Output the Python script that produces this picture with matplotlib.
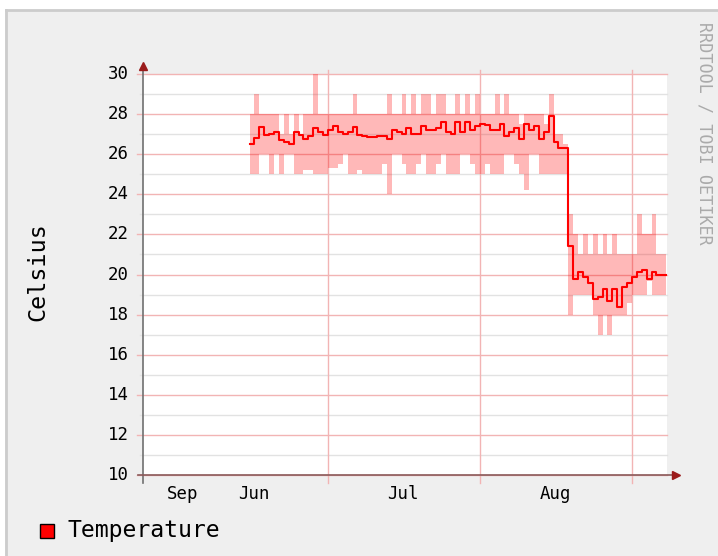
import matplotlib
matplotlib.use("Agg")
import matplotlib.pyplot as plt
from matplotlib.patches import Rectangle
from matplotlib.lines import Line2D

# day 0 = 1 June; one sample per day, from 15 June onward
days = list(range(14, 99))

temp_avg = [26.5, 26.8, 27.35, 26.95, 27.0, 27.1, 26.7, 26.6, 26.5, 27.1,
            26.95, 26.75, 26.9, 27.3, 27.1, 26.95, 27.2, 27.4, 27.1, 27.0,
            27.1, 27.35, 26.95, 26.9, 26.85, 26.85, 26.9, 26.9, 26.75, 27.2,
            27.1, 27.0, 27.3, 27.0, 27.0, 27.4, 27.2, 27.2, 27.3, 27.6,
            27.1, 27.0, 27.6, 27.1, 27.6, 27.2, 27.4, 27.5, 27.45, 27.2,
            27.2, 27.5, 26.9, 27.1, 27.3, 26.75, 27.5, 27.2, 27.4, 26.75,
            27.1, 27.9, 26.6, 26.3, 26.3, 21.4, 19.8, 20.1, 19.9, 19.6,
            18.8, 18.9, 19.3, 18.7, 19.3, 18.4, 19.4, 19.6, 19.9, 20.1,
            20.2, 19.8, 20.1, 20.0, 20.0]

temp_max = [28, 29, 28, 28, 28, 28, 27, 28, 27, 28,
            27, 28, 28, 30, 28, 28, 28, 28, 28, 28,
            28, 29, 28, 28, 28, 28, 28, 28, 29, 28,
            28, 29, 28, 29, 28, 29, 29, 28, 29, 29,
            28, 28, 29, 28, 29, 28, 29, 28, 28, 28,
            29, 28, 29, 28, 28, 27.5, 28, 28, 28, 28,
            27.5, 29, 27, 27, 26.5, 23, 22, 21, 22, 21,
            22, 21, 22, 21, 22, 21, 21, 21, 21, 23,
            22, 22, 23, 21, 21]

temp_min = [25, 25, 26, 26, 25, 26, 25, 26, 26, 25,
            25, 25.2, 25.2, 25, 25, 25, 25.3, 25.3, 25.5, 26,
            25, 25, 25.2, 25, 25, 25, 25, 25.5, 24, 26,
            26, 25.5, 25, 25, 25.5, 26, 25, 25, 25.5, 26,
            25, 25, 25, 26, 26, 25.5, 25, 25, 25.5, 25,
            25, 25, 26, 26, 25.5, 25, 24.2, 26, 26, 25,
            25, 25, 25, 25, 25, 18, 19, 19, 19, 19,
            18, 17, 18, 17, 18, 18, 18, 18.6, 19, 19,
            19, 19.7, 19, 19, 19]

month_starts = [30, 61, 92]
label_pos = [0.4, 14.9, 45.3, 76.3]
label_txt = ["Sep", "Jun", "Jul", "Aug"]
y_major = [10, 12, 14, 16, 18, 20, 22, 24, 26, 28, 30]
y_minor = [11, 13, 15, 17, 19, 21, 23, 25, 27, 29]

W, H = 718, 556
mono = "DejaVu Sans Mono"

fig = plt.figure(figsize=(W / 100, H / 100), dpi=100, facecolor="white")

# grey canvas with a light border on top and left
fig.patches.append(Rectangle((5 / W, 0), 1, (H - 10) / H, transform=fig.transFigure,
                             facecolor="#EFEFEF", edgecolor="none", zorder=-10))
fig.lines.append(Line2D([6 / W, 6 / W], [0, (H - 10) / H], transform=fig.transFigure,
                        color="#CCCCCC", lw=2, zorder=-9))
fig.lines.append(Line2D([6 / W, 1], [(H - 10) / H, (H - 10) / H], transform=fig.transFigure,
                        color="#CCCCCC", lw=2, zorder=-9))

def px(x):
    return (x - 180.9) / 4.903

ax = fig.add_axes([143 / W, 81 / H, 524 / W, 401 / H])
ax.set_zorder(1)
ax.set_facecolor("white")
ax.set_xlim(px(143), px(667))
ax.set_ylim(10, 30)
for s in ax.spines.values():
    s.set_visible(False)
ax.set_xticks([])
ax.set_yticks([])

# grid
for v in y_minor:
    ax.axhline(v, xmin=-3 / 524, xmax=1, color="#E2E2E2", lw=1, clip_on=False, zorder=1)
for v in y_major:
    ax.axhline(v, xmin=-6 / 524, xmax=1, color="#F2B4B4", lw=1, clip_on=False, zorder=1)
for d in month_starts:
    ax.axvline(d, ymin=-8 / 401, ymax=1 + 4 / 401, color="#F2B4B4", lw=1,
               clip_on=False, zorder=1)

# min/max band and average line
x_edges = days + [days[-1] + 1]
ax.fill_between(x_edges, temp_min + [temp_min[-1]], temp_max + [temp_max[-1]],
                step="post", color="#FF0000", alpha=0.28, lw=0, zorder=2)
ax.step(x_edges, temp_avg + [temp_avg[-1]], where="post", color="#FF0000",
        lw=1.5, zorder=3)

# axes with arrows
ax.plot([px(143), px(143)], [9.6, 30.3], color="#707070", lw=1.2, clip_on=False, zorder=4)
ax.plot([px(138), px(673)], [10, 10], color="#8A5A5A", lw=1.2, clip_on=False, zorder=4)
ax.plot([px(143)], [30.4], marker="^", ms=6, color="#9B1C1C", clip_on=False, zorder=5)
ax.plot([px(676)], [10], marker=">", ms=6, color="#9B1C1C", clip_on=False, zorder=5)

# tick labels
for v in y_major:
    ax.text(px(129), v, str(v), ha="right", va="center", family=mono,
            fontsize=12.5, color="#000000", clip_on=False)
for p, t in zip(label_pos, label_txt):
    ax.text(p, 9.05, t, ha="center", va="center", family=mono,
            fontsize=12.5, color="#000000", clip_on=False)

fig.text(38 / W, 1 - 272 / H, "Celsius", rotation=90, ha="center", va="center",
         family=mono, fontsize=16.8)
fig.text(705 / W, 1 - 133 / H, "RRDTOOL / TOBI OETIKER", rotation=270,
         ha="center", va="center", family=mono, fontsize=12.1, color="#AAAAAA")

# legend
fig.patches.append(Rectangle((40 / W, 1 - 538 / H), 14 / W, 14 / H,
                             transform=fig.transFigure, facecolor="#FF0000",
                             edgecolor="#000000", lw=1))
fig.text(68 / W, 1 - 531 / H, "Temperature", ha="left", va="center",
         family=mono, fontsize=16.7)

fig.savefig("out.png", dpi=100, facecolor=fig.get_facecolor())
